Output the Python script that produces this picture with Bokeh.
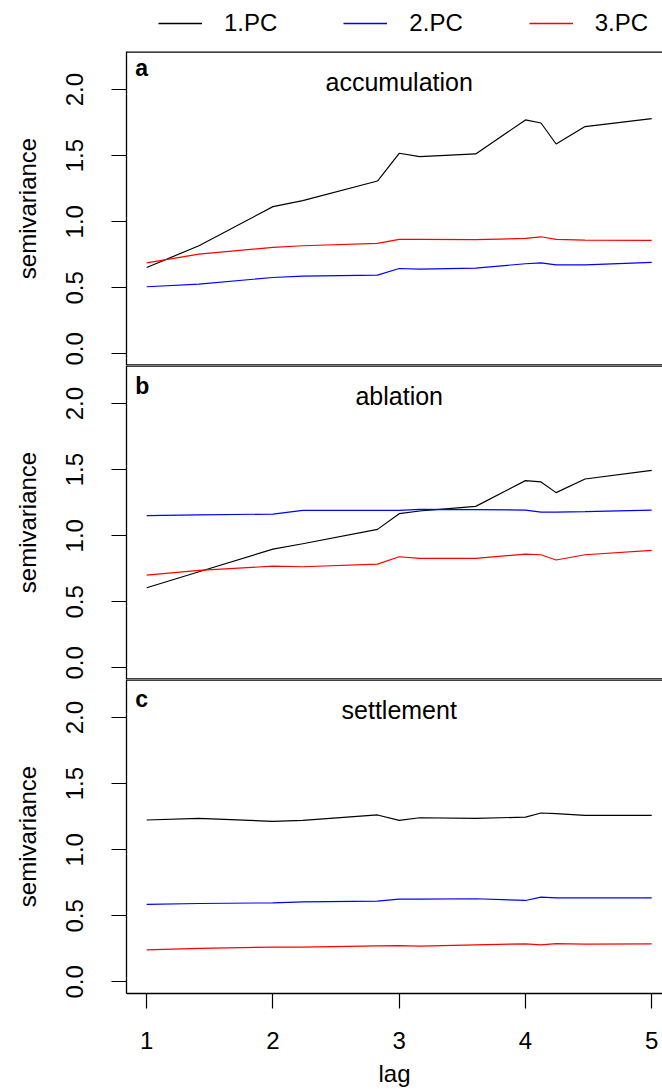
from bokeh.plotting import figure
from bokeh.layouts import column
from bokeh.models import (FixedTicker, PrintfTickFormatter, Range1d, Span,
                          Legend, LegendItem, ColumnDataSource)
from bokeh.core.properties import value
from bokeh.embed import file_html
from bokeh.resources import INLINE

FONT = "Liberation Sans"

# ---------------- data ----------------
lags = [1.0, 1.414, 2.0, 2.236, 2.828, 3.0, 3.162, 3.606, 4.0, 4.123, 4.243, 4.472, 5.0]

series_names = ["1.PC", "2.PC", "3.PC"]
series_colors = ["#000000", "#0000FF", "#FF0000"]

panel_titles = ["accumulation", "ablation", "settlement"]
panel_letters = ["a", "b", "c"]

acc_pc1 = [0.654, 0.818, 1.114, 1.159, 1.308, 1.518, 1.492, 1.513, 1.770, 1.747, 1.588, 1.720, 1.780]
acc_pc2 = [0.508, 0.528, 0.578, 0.588, 0.596, 0.646, 0.641, 0.649, 0.682, 0.689, 0.674, 0.674, 0.692]
acc_pc3 = [0.689, 0.755, 0.806, 0.818, 0.836, 0.866, 0.866, 0.864, 0.874, 0.886, 0.866, 0.861, 0.859]

abl_pc1 = [0.606, 0.727, 0.899, 0.939, 1.048, 1.167, 1.187, 1.222, 1.417, 1.407, 1.326, 1.429, 1.495]
abl_pc2 = [1.152, 1.157, 1.164, 1.192, 1.192, 1.192, 1.199, 1.197, 1.194, 1.179, 1.179, 1.182, 1.194]
abl_pc3 = [0.702, 0.737, 0.770, 0.765, 0.785, 0.841, 0.828, 0.828, 0.861, 0.856, 0.816, 0.856, 0.889]

set_pc1 = [1.225, 1.237, 1.215, 1.222, 1.263, 1.222, 1.242, 1.237, 1.247, 1.278, 1.273, 1.260, 1.260]
set_pc2 = [0.586, 0.593, 0.598, 0.606, 0.611, 0.626, 0.626, 0.629, 0.616, 0.641, 0.636, 0.636, 0.636]
set_pc3 = [0.242, 0.253, 0.263, 0.263, 0.273, 0.275, 0.270, 0.280, 0.288, 0.280, 0.290, 0.285, 0.288]

panel_series = [
    [acc_pc1, acc_pc2, acc_pc3],
    [abl_pc1, abl_pc2, abl_pc3],
    [set_pc1, set_pc2, set_pc3],
]

x_ticks = [1, 2, 3, 4, 5]
y_ticks = [0.0, 0.5, 1.0, 1.5, 2.0]

# ---------------- layout / style ----------------
X_START, X_END = 0.84, 5.0855
Y_START, Y_END = -0.088, 2.288
TITLE_X, TITLE_Y = 3.0, 2.06
LETTER_X = 0.91
LETTER_Y = [2.166, 2.136, 2.138]

FRAME_W, FRAME_H = 536, 314
LEFT_BORDER = 126
LEGEND_H = 51


def make_panel(idx):
    last = idx == 2
    p = figure(
        frame_width=FRAME_W, frame_height=FRAME_H,
        x_range=Range1d(X_START, X_END), y_range=Range1d(Y_START, Y_END),
        output_backend="svg", toolbar_location=None,
        x_axis_location="below" if last else None,
        min_border_left=LEFT_BORDER, min_border_right=0,
        min_border_top=0,
        min_border_bottom=96 if last else 0,
        background_fill_color="white", border_fill_color="white",
    )
    p.outline_line_color = None
    p.grid.visible = False

    # y axis
    ya = p.yaxis[0]
    ya.ticker = FixedTicker(ticks=y_ticks)
    ya.formatter = PrintfTickFormatter(format="%.1f")
    ya.major_label_orientation = "vertical"
    ya.major_tick_out = 15
    ya.major_tick_in = 0
    ya.minor_tick_out = 0
    ya.minor_tick_in = 0
    ya.axis_line_width = 1.3
    ya.major_tick_line_width = 1.2
    ya.major_label_text_font = FONT
    ya.major_label_text_font_size = "24px"
    ya.major_label_text_color = "black"
    ya.major_label_standoff = 28
    ya.axis_label = "semivariance"
    ya.axis_label_text_font = FONT
    ya.axis_label_text_font_style = "normal"
    ya.axis_label_text_font_size = "24px"
    ya.axis_label_text_color = "black"
    ya.axis_label_standoff = 23

    if last:
        xa = p.xaxis[0]
        xa.ticker = FixedTicker(ticks=x_ticks)
        xa.major_tick_out = 15
        xa.major_tick_in = 0
        xa.minor_tick_out = 0
        xa.minor_tick_in = 0
        xa.axis_line_width = 1.5
        xa.major_tick_line_width = 1.2
        xa.major_label_text_font = FONT
        xa.major_label_text_font_size = "24px"
        xa.major_label_text_color = "black"
        xa.major_label_standoff = 23
        xa.axis_label = "lag"
        xa.axis_label_text_font = FONT
        xa.axis_label_text_font_style = "normal"
        xa.axis_label_text_font_size = "24px"
        xa.axis_label_text_color = "black"
        xa.axis_label_standoff = 8

    # panel borders (top and bottom of each panel box)
    p.add_layout(Span(location=Y_END, dimension="width", line_color="black", line_width=2.6))
    if not last:
        p.add_layout(Span(location=Y_START, dimension="width", line_color="black", line_width=2.6))

    for vals, color in zip(panel_series[idx], series_colors):
        src = ColumnDataSource(dict(x=lags, y=vals))
        p.line("x", "y", source=src, line_color=color, line_width=1.2)

    p.text(x=[TITLE_X], y=[TITLE_Y], text=[panel_titles[idx]],
           text_align="center", text_baseline="alphabetic",
           text_font=value(FONT), text_font_size="25px", text_color="black")
    p.text(x=[LETTER_X], y=[LETTER_Y[idx]], text=[panel_letters[idx]],
           text_align="left", text_baseline="alphabetic",
           text_font=value(FONT), text_font_size="23px",
           text_font_style="bold", text_color="black")
    return p


# legend strip on top: its series lines lie outside its own view (y far above),
# the column aligns its frame with the panels' frames (left edge at 126 px)
leg = figure(frame_width=FRAME_W, height=LEGEND_H,
             x_range=Range1d(X_START, X_END), y_range=Range1d(10, 11),
             output_backend="svg", toolbar_location=None,
             min_border_left=LEFT_BORDER, min_border_right=0, min_border_top=0, min_border_bottom=0,
             x_axis_location=None, y_axis_location=None,
             background_fill_color="white", border_fill_color="white")
leg.outline_line_color = None
leg.grid.visible = False
leg_renderers = []
for vals, color in zip(panel_series[0], series_colors):
    src = ColumnDataSource(dict(x=lags, y=vals))
    leg_renderers.append(leg.line("x", "y", source=src, line_color=color, line_width=1.5))

legend = Legend(
    items=[LegendItem(label=n, renderers=[r]) for n, r in zip(series_names, leg_renderers)],
    orientation="horizontal", location=(32, 14.5),
    glyph_width=44, glyph_height=28, label_height=28, label_standoff=22, spacing=66,
    padding=0, margin=0, border_line_color=None, background_fill_alpha=0,
    label_text_font=FONT, label_text_font_size="24px", label_text_color="black",
)
leg.add_layout(legend, "center")

panels = [make_panel(i) for i in range(3)]

layout = column(leg, *panels, spacing=0)

open("out.html", "w").write(file_html(layout, INLINE))
